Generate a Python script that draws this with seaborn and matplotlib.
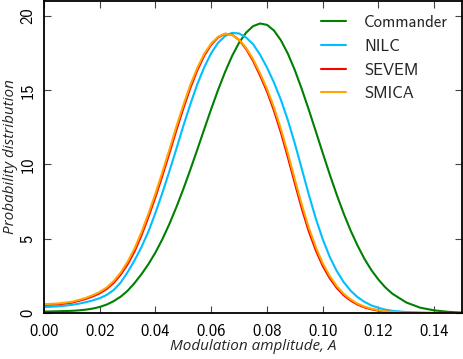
import numpy as np
import pandas as pd
import matplotlib
matplotlib.use("Agg")
import matplotlib.pyplot as plt
import seaborn as sns

# Modulation amplitude grid
amplitude = [0.000, 0.005, 0.010,
             0.0125, 0.0150, 0.0175, 0.0200, 0.0225, 0.0250, 0.0275, 0.0300, 0.0325, 0.0350,
             0.0375, 0.0400, 0.0425, 0.0450, 0.0475, 0.0500, 0.0525, 0.0550, 0.0575, 0.0600,
             0.0625, 0.0650, 0.0675, 0.0700, 0.0725, 0.0750, 0.0775, 0.0800, 0.0825, 0.0850,
             0.0875, 0.0900, 0.0925, 0.0950, 0.0975, 0.1000, 0.1025, 0.1050, 0.1075, 0.1100,
             0.1125, 0.1150, 0.1175, 0.1200, 0.1225, 0.1250,
             0.130, 0.135, 0.140, 0.145, 0.150]

commander = [0.10, 0.12, 0.15,
             0.18, 0.23, 0.30, 0.41, 0.57, 0.80, 1.10, 1.50, 2.02, 2.62,
             3.30, 4.08, 4.98, 6.00, 7.13, 8.35, 9.65, 11.0, 12.38, 13.74,
             15.04, 16.24, 17.31, 18.20, 18.87, 19.31, 19.49, 19.40, 19.02, 18.36,
             17.46, 16.35, 15.07, 13.69, 12.24, 10.78, 9.34, 7.98, 6.71, 5.56,
             4.54, 3.64, 2.88, 2.25, 1.72, 1.30,
             0.71, 0.36, 0.18, 0.08, 0.03]
nilc = [0.40, 0.45, 0.55,
        0.63, 0.73, 0.85, 1.00, 1.22, 1.55, 2.05, 2.75, 3.55, 4.45,
        5.50, 6.75, 8.10, 9.55, 11.05, 12.60, 14.05, 15.40, 16.55, 17.50,
        18.20, 18.65, 18.86, 18.82, 18.55, 18.10, 17.40, 16.53, 15.52, 14.35,
        12.98, 11.41, 9.70, 7.98, 6.37, 4.97, 3.79, 2.84, 2.09, 1.51,
        1.07, 0.75, 0.51, 0.35, 0.23, 0.15,
        0.06, 0.02, 0.01, 0.0, 0.0]
sevem = [0.55, 0.59, 0.70,
         0.82, 0.95, 1.12, 1.33, 1.62, 2.03, 2.58, 3.28, 4.15, 5.24,
         6.48, 7.82, 9.26, 10.76, 12.31, 13.78, 15.15, 16.34, 17.33, 18.07,
         18.56, 18.80, 18.74, 18.38, 17.78, 16.98, 16.00, 14.92, 13.63, 12.15,
         10.48, 8.73, 7.03, 5.50, 4.23, 3.17, 2.35, 1.70, 1.20, 0.84,
         0.57, 0.38, 0.25, 0.16, 0.10, 0.06,
         0.02, 0.01, 0.0, 0.0, 0.0]
smica = [0.60, 0.64, 0.76,
         0.88, 1.02, 1.20, 1.42, 1.72, 2.15, 2.72, 3.45, 4.35, 5.45,
         6.70, 8.05, 9.50, 11.00, 12.55, 14.00, 15.35, 16.50, 17.45, 18.15,
         18.60, 18.80, 18.72, 18.40, 17.85, 17.10, 16.15, 15.10, 13.85, 12.40,
         10.75, 9.00, 7.30, 5.75, 4.45, 3.35, 2.50, 1.82, 1.30, 0.92,
         0.63, 0.43, 0.29, 0.19, 0.12, 0.08,
         0.03, 0.01, 0.0, 0.0, 0.0]

methods = ["Commander", "NILC", "SEVEM", "SMICA"]
colors = ["#008000", "#00BFFF", "#FF0000", "#FFA500"]
xticks = [0.00, 0.02, 0.04, 0.06, 0.08, 0.10, 0.12, 0.14]
yticks = [0, 5, 10, 15, 20]

sns.set_style("ticks")
plt.rcParams["font.family"] = ["cmss10", "DejaVu Sans"]
plt.rcParams["axes.unicode_minus"] = False

df = pd.concat([
    pd.DataFrame({"A": amplitude, "P": vals, "method": name})
    for name, vals in zip(methods, [commander, nilc, sevem, smica])
], ignore_index=True)

fig = plt.figure(figsize=(4.63, 3.59), dpi=100)
ax = fig.add_axes([0.095, 0.128, 0.903, 0.869])

sns.lineplot(data=df, x="A", y="P", hue="method", hue_order=methods,
             palette=dict(zip(methods, colors)), linewidth=1.5, ax=ax,
             sort=True, estimator=None)

ax.set_xlim(0, 0.15)
ax.set_ylim(0, 21)
ax.set_xticks(xticks)
ax.set_xticklabels([f"{t:.2f}" for t in xticks])
ax.set_yticks(yticks)
ax.set_yticklabels([str(t) for t in yticks], rotation=90, va="center")
ax.tick_params(direction="in", length=5, width=0.8, top=True, right=True,
               labelsize=12, colors="#444444", labelcolor="black", pad=6)
ax.tick_params(axis="x", pad=8)
for s in ax.spines.values():
    s.set_linewidth(1.3)
    s.set_color("black")

ax.set_xlabel("Modulation amplitude, A", fontsize=11, style="italic",
              family=["Open Sans"], labelpad=0)
ax.set_ylabel("Probability distribution", fontsize=11, style="italic",
              family=["Open Sans"], labelpad=2)

leg = ax.legend(loc="upper right", frameon=False, fontsize=12,
                handlelength=1.5, handletextpad=1.1, labelspacing=0.52,
                borderaxespad=0.45)
for line in leg.get_lines():
    line.set_linewidth(1.5)

fig.savefig("out.png", dpi=100)
